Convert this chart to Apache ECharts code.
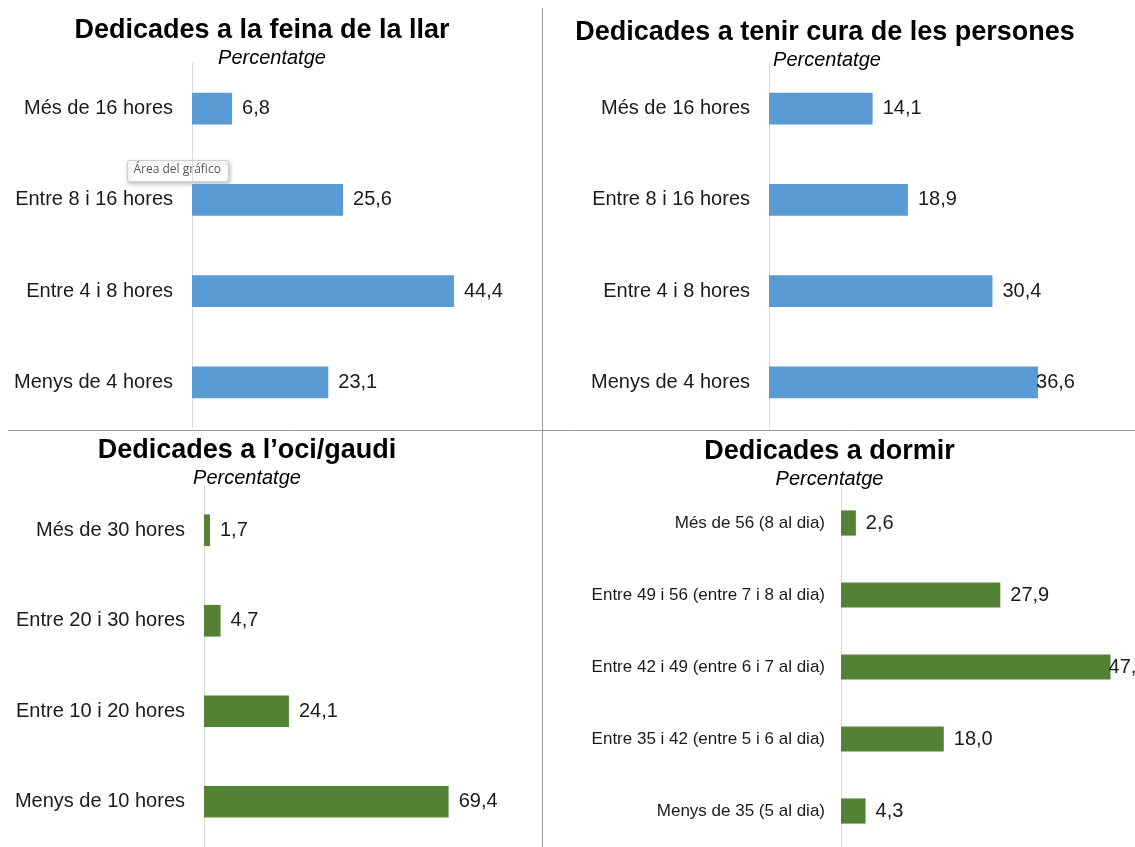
<!DOCTYPE html>
<html>
<head>
<meta charset="utf-8">
<script src="https://cdn.jsdelivr.net/npm/echarts@6/dist/echarts.min.js"></script>
<style>
html,body{margin:0;padding:0;background:#fff;}
#c{width:1135px;height:847px;}
</style>
</head>
<body>
<div id="c"></div>
<script>
// ---- Data ----
const titles = [
  'Dedicades a la feina de la llar',
  'Dedicades a tenir cura de les persones',
  'Dedicades a l\u2019oci/gaudi',
  'Dedicades a dormir'
];
const subtitle = 'Percentatge';
const catsLlar = ['Més de 16 hores', 'Entre 8 i 16 hores', 'Entre 4 i 8 hores', 'Menys de 4 hores'];
const valsLlar = [6.8, 25.6, 44.4, 23.1];
const catsCura = ['Més de 16 hores', 'Entre 8 i 16 hores', 'Entre 4 i 8 hores', 'Menys de 4 hores'];
const valsCura = [14.1, 18.9, 30.4, 36.6];
const catsOci = ['Més de 30 hores', 'Entre 20 i 30 hores', 'Entre 10 i 20 hores', 'Menys de 10 hores'];
const valsOci = [1.7, 4.7, 24.1, 69.4];
const catsDormir = ['Més de 56 (8 al dia)', 'Entre 49 i 56 (entre 7 i 8 al dia)', 'Entre 42 i 49 (entre 6 i 7 al dia)', 'Entre 35 i 42 (entre 5 i 6 al dia)', 'Menys de 35 (5 al dia)'];
const valsDormir = [2.6, 27.9, 47.2, 18.0, 4.3];
const tooltipText = 'Área del gráfico';

// ---- Layout ----
const FONT = '"Liberation Sans", Arial, sans-serif';
const BLUE = '#5B9BD5', GREEN = '#548235';
const panels = [
  {cats: catsLlar, vals: valsLlar, color: BLUE, grid: {left: 192, top: 63, width: 295, height: 365}, max: 50, catFont: 20, catMargin: 19, titleX: 257, titleY: 12, subX: 267, subY: 43, close: []},
  {cats: catsCura, vals: valsCura, color: BLUE, grid: {left: 769, top: 63, width: 294, height: 365}, max: 40, catFont: 20, catMargin: 19, titleX: 820, titleY: 14, subX: 822, subY: 45, close: [3]},
  {cats: catsOci, vals: valsOci, color: GREEN, grid: {left: 204, top: 485, width: 282, height: 366}, max: 80, catFont: 20, catMargin: 19, titleX: 242, titleY: 432, subX: 242, subY: 463, close: []},
  {cats: catsDormir, vals: valsDormir, color: GREEN, grid: {left: 841, top: 487, width: 285.5, height: 365}, max: 50, catFont: 17, catMargin: 16, titleX: 824.5, titleY: 433, subX: 824.5, subY: 464, close: [2]}
];

const fmt = v => v.toFixed(1).replace('.', ',');

const option = {
  animation: false,
  backgroundColor: '#fff',
  title: [],
  grid: [], xAxis: [], yAxis: [], series: [],
  graphic: []
};

panels.forEach((p, i) => {
  option.title.push({
    text: titles[i], left: p.titleX, top: p.titleY, textAlign: 'center',
    textStyle: {fontFamily: FONT, fontSize: 27, fontWeight: 'bold', color: '#000'}
  });
  option.title.push({
    text: subtitle, left: p.subX, top: p.subY, textAlign: 'center',
    textStyle: {fontFamily: FONT, fontSize: 20, fontStyle: 'italic', fontWeight: 'normal', color: '#000'}
  });
  option.grid.push(Object.assign({containLabel: false}, p.grid));
  option.xAxis.push({
    type: 'value', gridIndex: i, min: 0, max: p.max, show: false,
    splitLine: {show: false}
  });
  option.yAxis.push({
    type: 'category', gridIndex: i, data: p.cats, inverse: true,
    axisLine: {show: true, lineStyle: {color: '#d9d9d9', width: 1}},
    axisTick: {show: false},
    axisLabel: {fontFamily: FONT, fontSize: p.catFont, color: '#1a1a1a', margin: p.catMargin}
  });
  option.series.push({
    type: 'bar', xAxisIndex: i, yAxisIndex: i,
    barWidth: '35%',
    itemStyle: {color: p.color},
    data: p.vals.map((v, k) => ({
      value: v,
      label: p.close.indexOf(k) >= 0 ? {distance: -2} : undefined
    })),
    label: {
      show: true, position: 'right', distance: 10,
      formatter: d => fmt(d.value),
      fontFamily: FONT, fontSize: 20, color: '#1a1a1a'
    }
  });
});

// dividers
option.graphic.push({type: 'line', shape: {x1: 542.5, y1: 8, x2: 542.5, y2: 847}, style: {stroke: '#9a9a9a', lineWidth: 1}, z: 10});
option.graphic.push({type: 'line', shape: {x1: 8, y1: 430.5, x2: 1135, y2: 430.5}, style: {stroke: '#9a9a9a', lineWidth: 1}, z: 10});
// Excel tooltip artifact
option.graphic.push({
  type: 'group', left: 127, top: 160, z: 20,
  children: [
    {type: 'rect', shape: {x: 0, y: 0, width: 101, height: 21, r: 2},
     style: {fill: '#fff', stroke: '#d0d0d0', lineWidth: 1, shadowBlur: 4, shadowOffsetX: 1, shadowOffsetY: 2, shadowColor: 'rgba(0,0,0,0.25)'}},
    {type: 'text', x: 6, y: 3, style: {text: tooltipText, fontFamily: '"Open Sans", sans-serif', fontSize: 12, fill: '#555'}}
  ]
});

const chart = echarts.init(document.getElementById('c'), null, {renderer: 'canvas'});
chart.setOption(option);
</script>
</body>
</html>
